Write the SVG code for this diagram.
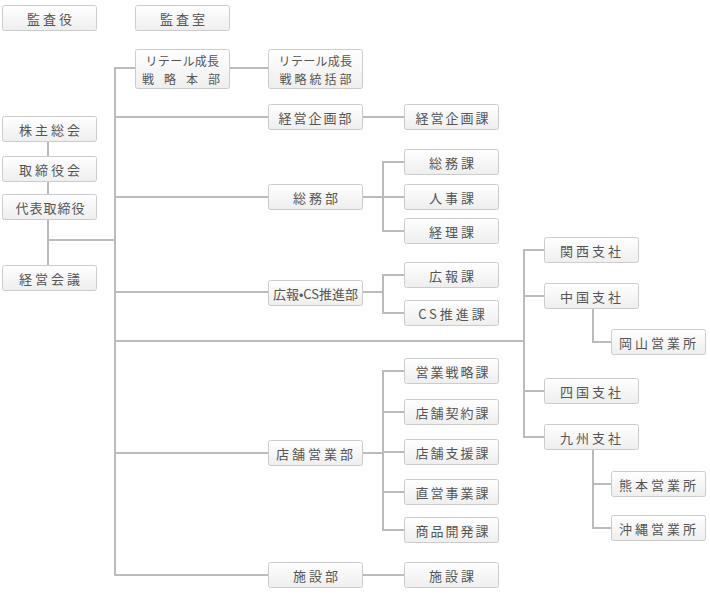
<svg xmlns="http://www.w3.org/2000/svg" width="710" height="600" viewBox="0 0 710 600">
<defs>
<linearGradient id="g" x1="0" y1="0" x2="0" y2="1">
<stop offset="0" stop-color="#ffffff"/>
<stop offset="1" stop-color="#eeeeee"/>
</linearGradient>
</defs>
<style>
.box{fill:url(#g);stroke:#cccccc;stroke-width:1}
.t{font-family:"Noto Sans CJK JP","Noto Sans",sans-serif;font-size:13px;fill:#555555;text-anchor:middle;dominant-baseline:central;letter-spacing:2px}
.t2{font-size:12px}
.c line,.c polyline{stroke:#bbbbbb;stroke-width:2;fill:none}
</style>
<rect width="710" height="600" fill="#ffffff"/>
<g class="c" id="connectors">
<line x1="48" y1="141" x2="48" y2="157"/>
<line x1="48" y1="181" x2="48" y2="195"/>
<line x1="48" y1="219" x2="48" y2="265"/>
<line x1="48" y1="240" x2="115" y2="240"/>
<line x1="115" y1="67" x2="115" y2="576"/>
<line x1="114" y1="68" x2="135" y2="68"/>
<line x1="229" y1="68" x2="268" y2="68"/>
<line x1="115" y1="117" x2="268" y2="117"/>
<line x1="362" y1="117" x2="404" y2="117"/>
<line x1="115" y1="197" x2="268" y2="197"/>
<line x1="362" y1="197" x2="404" y2="197"/>
<polyline points="404,162 383,162 383,231 404,231"/>
<line x1="115" y1="292" x2="268" y2="292"/>
<line x1="362" y1="292" x2="383" y2="292"/>
<polyline points="404,275 383,275 383,313 404,313"/>
<line x1="115" y1="341" x2="524" y2="341"/>
<polyline points="545,250 524,250 524,437 545,437"/>
<line x1="524" y1="296" x2="545" y2="296"/>
<line x1="524" y1="391" x2="545" y2="391"/>
<polyline points="593,308 593,342 611,342"/>
<polyline points="593,449 593,528 611,528"/>
<line x1="593" y1="484" x2="611" y2="484"/>
<line x1="115" y1="453" x2="268" y2="453"/>
<line x1="362" y1="453" x2="383" y2="453"/>
<polyline points="404,371 383,371 383,530 404,530"/>
<line x1="383" y1="412" x2="404" y2="412"/>
<line x1="383" y1="452" x2="404" y2="452"/>
<line x1="383" y1="492" x2="404" y2="492"/>
<line x1="114" y1="575" x2="268" y2="575"/>
<line x1="362" y1="575" x2="404" y2="575"/>
</g>
<g id="kansayaku"><rect class="box" x="2.5" y="5.5" width="94" height="25" rx="2"/><text class="t" x="51" y="18" style="letter-spacing:3px">監査役</text></g>
<g id="kansashitsu"><rect class="box" x="135.5" y="5.5" width="94" height="25" rx="2"/><text class="t" x="184" y="18" style="letter-spacing:3px">監査室</text></g>
<g id="retail-honbu"><rect class="box" x="135.5" y="49.5" width="94" height="39" rx="2"/><text class="t t2" x="182.5" y="60.5" style="letter-spacing:0.3px">リテール成長</text><text class="t t2" x="186" y="78" style="letter-spacing:10px">戦略本部</text></g>
<g id="retail-toukatsu"><rect class="box" x="268.5" y="49.5" width="94" height="39" rx="2"/><text class="t t2" x="315.5" y="60.5" style="letter-spacing:0.3px">リテール成長</text><text class="t t2" x="317" y="78" style="letter-spacing:3px">戦略統括部</text></g>
<g id="kabunushi"><rect class="box" x="2.5" y="116.5" width="94" height="25" rx="2"/><text class="t" x="51" y="129" style="letter-spacing:3px">株主総会</text></g>
<g id="torishimariyakukai"><rect class="box" x="2.5" y="156.5" width="94" height="25" rx="2"/><text class="t" x="51" y="169" style="letter-spacing:3px">取締役会</text></g>
<g id="daihyo"><rect class="box" x="2.5" y="194.5" width="94" height="25" rx="2"/><text class="t" x="50.5" y="207" style="letter-spacing:1px">代表取締役</text></g>
<g id="keiei-kaigi"><rect class="box" x="2.5" y="265.5" width="94" height="25" rx="2"/><text class="t" x="51" y="278" style="letter-spacing:3px">経営会議</text></g>
<g id="keiei-kikaku-bu"><rect class="box" x="268.5" y="104.5" width="94" height="25" rx="2"/><text class="t" x="316" y="117">経営企画部</text></g>
<g id="keiei-kikaku-ka"><rect class="box" x="404.5" y="104.5" width="94" height="25" rx="2"/><text class="t" x="453" y="117">経営企画課</text></g>
<g id="soumu-ka"><rect class="box" x="404.5" y="149.5" width="94" height="25" rx="2"/><text class="t" x="453" y="162" style="letter-spacing:3px">総務課</text></g>
<g id="soumu-bu"><rect class="box" x="268.5" y="184.5" width="94" height="25" rx="2"/><text class="t" x="317" y="197" style="letter-spacing:3px">総務部</text></g>
<g id="jinji-ka"><rect class="box" x="404.5" y="184.5" width="94" height="25" rx="2"/><text class="t" x="453" y="197" style="letter-spacing:3px">人事課</text></g>
<g id="keiri-ka"><rect class="box" x="404.5" y="218.5" width="94" height="25" rx="2"/><text class="t" x="453" y="231" style="letter-spacing:3px">経理課</text></g>
<g id="kouhou-bu"><rect class="box" x="268.5" y="280.5" width="94" height="25" rx="2"/><text class="t" x="315.5" y="293" style="letter-spacing:0">広報•CS推進部</text></g>
<g id="kouhou-ka"><rect class="box" x="404.5" y="262.5" width="94" height="25" rx="2"/><text class="t" x="453" y="275" style="letter-spacing:3px">広報課</text></g>
<g id="cs-ka"><rect class="box" x="404.5" y="300.5" width="94" height="25" rx="2"/><text class="t" x="453" y="313" style="letter-spacing:3px">CS推進課</text></g>
<g id="kansai"><rect class="box" x="544.5" y="237.5" width="94" height="25" rx="2"/><text class="t" x="592" y="250" style="letter-spacing:3px">関西支社</text></g>
<g id="chugoku"><rect class="box" x="544.5" y="283.5" width="94" height="25" rx="2"/><text class="t" x="592" y="296" style="letter-spacing:3px">中国支社</text></g>
<g id="okayama"><rect class="box" x="611.5" y="329.5" width="94" height="25" rx="2"/><text class="t" x="659" y="342" style="letter-spacing:3px">岡山営業所</text></g>
<g id="shikoku"><rect class="box" x="544.5" y="378.5" width="94" height="25" rx="2"/><text class="t" x="592" y="391" style="letter-spacing:3px">四国支社</text></g>
<g id="kyushu"><rect class="box" x="544.5" y="424.5" width="94" height="25" rx="2"/><text class="t" x="592" y="437" style="letter-spacing:3px">九州支社</text></g>
<g id="kumamoto"><rect class="box" x="611.5" y="471.5" width="94" height="25" rx="2"/><text class="t" x="659" y="484" style="letter-spacing:3px">熊本営業所</text></g>
<g id="okinawa"><rect class="box" x="611.5" y="515.5" width="94" height="25" rx="2"/><text class="t" x="659" y="528" style="letter-spacing:3px">沖縄営業所</text></g>
<g id="eigyo-senryaku"><rect class="box" x="404.5" y="358.5" width="94" height="25" rx="2"/><text class="t" x="453" y="371">営業戦略課</text></g>
<g id="tenpo-keiyaku"><rect class="box" x="404.5" y="399.5" width="94" height="25" rx="2"/><text class="t" x="453" y="412">店舗契約課</text></g>
<g id="tenpo-eigyo-bu"><rect class="box" x="268.5" y="440.5" width="94" height="25" rx="2"/><text class="t" x="316" y="453" style="letter-spacing:3px">店舗営業部</text></g>
<g id="tenpo-shien"><rect class="box" x="404.5" y="439.5" width="94" height="25" rx="2"/><text class="t" x="453" y="452">店舗支援課</text></g>
<g id="chokuei"><rect class="box" x="404.5" y="479.5" width="94" height="25" rx="2"/><text class="t" x="453" y="492">直営事業課</text></g>
<g id="shohin"><rect class="box" x="404.5" y="517.5" width="94" height="25" rx="2"/><text class="t" x="453" y="530">商品開発課</text></g>
<g id="shisetsu-bu"><rect class="box" x="268.5" y="562.5" width="94" height="25" rx="2"/><text class="t" x="317" y="575" style="letter-spacing:3px">施設部</text></g>
<g id="shisetsu-ka"><rect class="box" x="404.5" y="562.5" width="94" height="25" rx="2"/><text class="t" x="453" y="575" style="letter-spacing:3px">施設課</text></g>
</svg>
